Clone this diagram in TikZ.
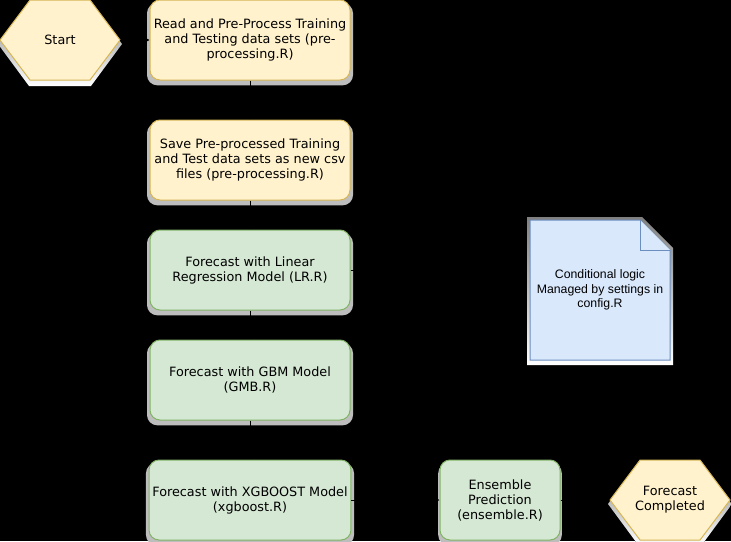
\documentclass[tikz,border=0pt]{standalone}
\usepackage{fontspec}
\setmainfont{DejaVu Sans}
\newfontfamily\notefont{Liberation Sans}
\usetikzlibrary{shadows,arrows.meta}
\definecolor{yfill}{HTML}{FFF2CC}
\definecolor{yline}{HTML}{D6B656}
\definecolor{gfill}{HTML}{D5E8D4}
\definecolor{gline}{HTML}{82B366}
\definecolor{bfill}{HTML}{DAE8FC}
\definecolor{bline}{HTML}{6C8EBF}
\definecolor{shade}{HTML}{BDBDBD}
\tikzset{
  flowtext/.style={align=center, text=black, font=\fontsize{12.8pt}{15pt}\selectfont},
  endtext/.style={flowtext, minimum width=120pt, minimum height=80pt},
  stepcard/.style={flowtext, rectangle, rounded corners=10pt, line width=1pt,
    minimum width=200pt, minimum height=80pt,
    general shadow={fill=shade, shadow yshift=-4pt, shadow scale=1.03}},
  prepcard/.style={stepcard, draw=yline, fill=yfill},
  modelcard/.style={stepcard, draw=gline, fill=gfill},
  flow/.style={draw=black, line width=1pt, -{Triangle[length=6pt,width=6pt]}}
}
\def\hexagon[#1](#2,#3) % Syntax: [draw options] (center x, center y), 120 by 80
    { \fill[shade] ({#2-62},{#3+4}) -- ({#2-31},{#3-39}) -- ({#2+31},{#3-39}) -- ({#2+62},{#3+4}) -- ({#2+31},{#3+46}) -- ({#2-31},{#3+46}) -- cycle;
      \filldraw[#1] ({#2-60},#3) -- ({#2-30},{#3-40}) -- ({#2+30},{#3-40}) -- ({#2+60},#3) -- ({#2+30},{#3+40}) -- ({#2-30},{#3+40}) -- cycle; }
\def\notepage[#1](#2,#3,#4,#5) % Syntax: [draw options] (left, top, right, bottom), fold of 30
    { \fill[shade] ({#2-3},{#3-3}) -- ({#4-28},{#3-3}) -- ({#4+3},{#3+28}) -- ({#4+3},{#5+5}) -- ({#2-3},{#5+5}) -- cycle;
      \filldraw[#1] (#2,#3) -- ({#4-30},#3) -- (#4,{#3+30}) -- (#4,#5) -- (#2,#5) -- cycle;
      \draw[#1] ({#4-30},#3) -- ({#4-30},{#3+30}) -- (#4,{#3+30}); }

\begin{document}
\begin{tikzpicture}[x=1pt,y=-1pt]

\fill[black] (0,0) rectangle (731,541);
\useasboundingbox (0,0) rectangle (731,541);

% start and end
\hexagon[draw=yline, fill=yfill, line width=1pt](60,40)
\node[endtext] (start) at (60,40) {Start};
\hexagon[draw=yline, fill=yfill, line width=1pt](670,500)
\node[endtext] (done) at (670,500) {Forecast\\Completed};

% pre-processing
\node[prepcard] (read) at (250,40) {Read and Pre-Process Training\\and Testing data sets (pre-\\processing.R)};
\node[prepcard] (save) at (250,160) {Save Pre-processed Training\\and Test data sets as new csv\\files (pre-processing.R)};

% models
\node[modelcard] (lr) at (250,270) {Forecast with Linear\\Regression Model (LR.R)};
\node[modelcard] (gbm) at (250,380) {Forecast with GBM Model\\(GMB.R)};
\node[modelcard] (xgb) at (250,500) {Forecast with XGBOOST Model\\(xgboost.R)};
\node[modelcard, minimum width=120pt] (ens) at (500,500) {Ensemble\\Prediction\\(ensemble.R)};

% config note
\notepage[draw=bline, fill=bfill, line width=1pt](530,220,670,360)
\node[flowtext, font=\notefont\fontsize{12.3pt}{14.5pt}\selectfont] (note) at (600,290) {Conditional logic\\Managed by settings in\\config.R};

\draw[flow] (start) -- (read);
\draw[flow] (read) -- (save);
\draw[flow] (save) -- (lr);
\draw[flow] (lr) -- (gbm);
\draw[flow] (gbm) -- (xgb);
\draw[flow] (lr.east) -| (ens.north);
\draw[flow] (xgb) -- (ens);
\draw[flow] (ens) -- (done);

\end{tikzpicture}
\end{document}
